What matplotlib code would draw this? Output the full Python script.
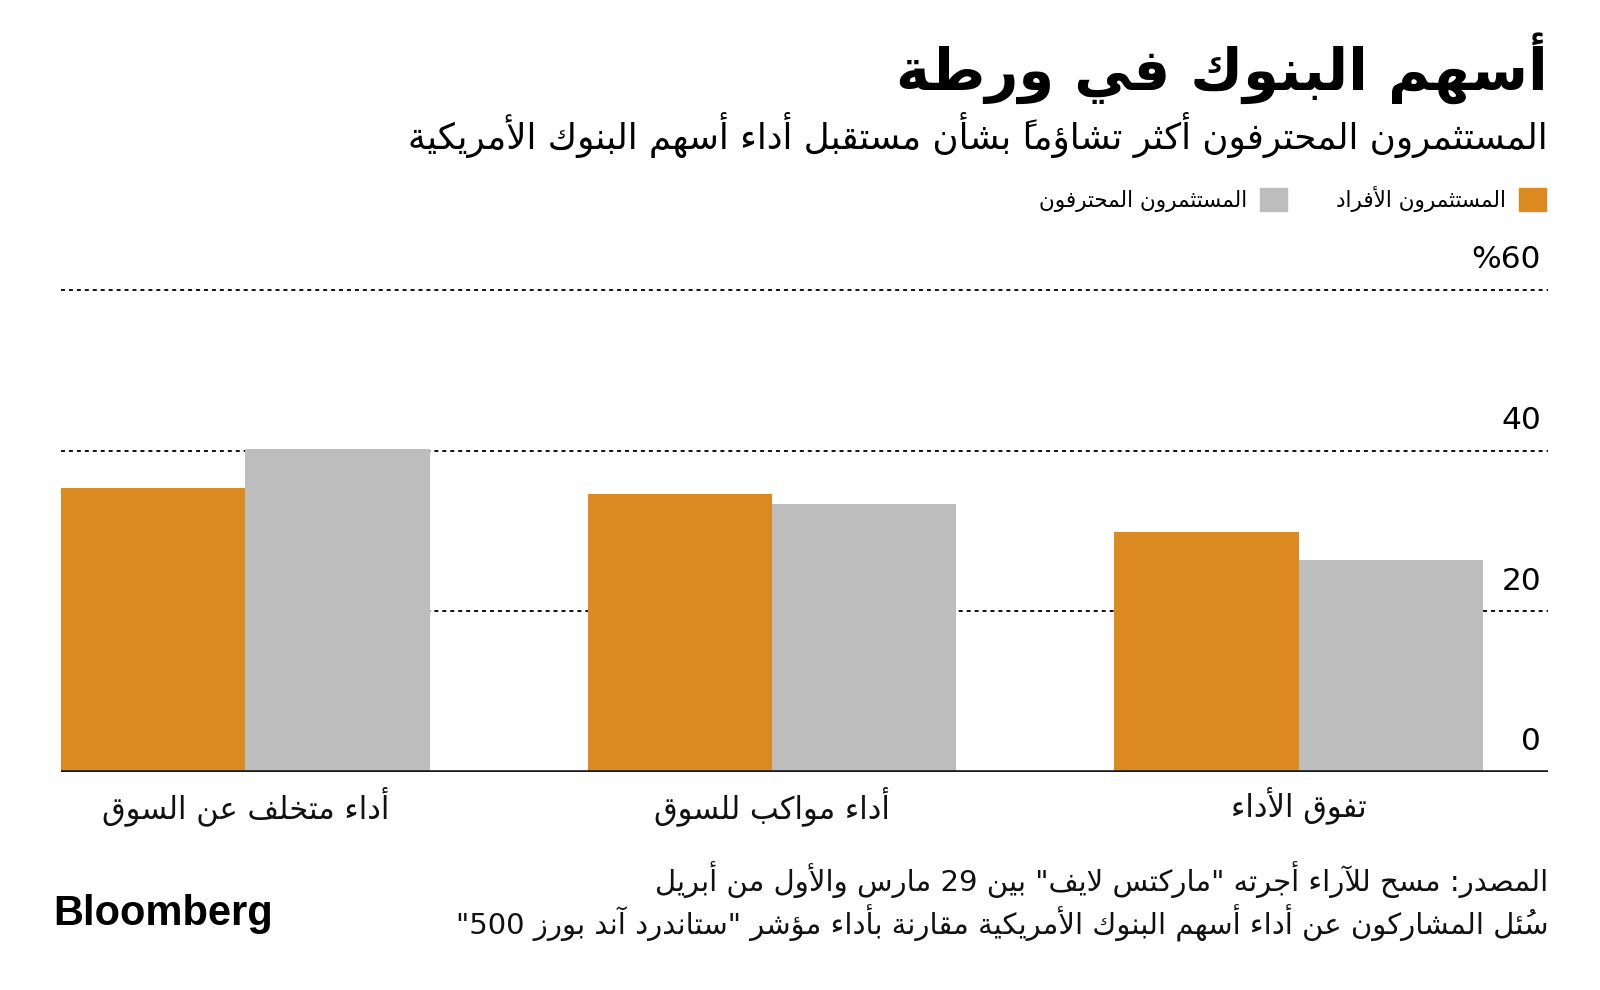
import matplotlib
matplotlib.use("Agg")
import matplotlib.pyplot as plt
from matplotlib.patches import Patch

# Data (left to right as drawn)
categories = ["أداء متخلف عن السوق", "أداء مواكب للسوق", "تفوق الأداء"]
retail = [35.3, 34.6, 29.9]        # المستثمرون الأفراد
professional = [40.2, 33.3, 26.4]  # المستثمرون المحترفون
series_names = ["المستثمرون الأفراد", "المستثمرون المحترفون"]
y_ticks = [0, 20, 40, 60]
y_labels = ["0", "20", "40", "%60"]

title = "أسهم البنوك في ورطة"
subtitle = "المستثمرون المحترفون أكثر تشاؤماً بشأن مستقبل أداء أسهم البنوك الأمريكية"
source1 = 'المصدر: مسح للآراء أجرته "ماركتس لايف" بين 29 مارس والأول من أبريل'
source2 = 'سُئل المشاركون عن أداء أسهم البنوك الأمريكية مقارنة بأداء مؤشر "ستاندرد آند بورز 500"'

ORANGE = "#DB8A22"
GREY = "#BDBDBD"

# --- minimal Arabic shaping (matplotlib has no text shaping) ---
_FORMS = {
    'ء': (0xFE80, 1), 'آ': (0xFE81, 2), 'أ': (0xFE83, 2), 'ؤ': (0xFE85, 2),
    'إ': (0xFE87, 2), 'ئ': (0xFE89, 4), 'ا': (0xFE8D, 2), 'ب': (0xFE8F, 4),
    'ة': (0xFE93, 2), 'ت': (0xFE95, 4), 'ث': (0xFE99, 4), 'ج': (0xFE9D, 4),
    'ح': (0xFEA1, 4), 'خ': (0xFEA5, 4), 'د': (0xFEA9, 2), 'ذ': (0xFEAB, 2),
    'ر': (0xFEAD, 2), 'ز': (0xFEAF, 2), 'س': (0xFEB1, 4), 'ش': (0xFEB5, 4),
    'ص': (0xFEB9, 4), 'ض': (0xFEBD, 4), 'ط': (0xFEC1, 4), 'ظ': (0xFEC5, 4),
    'ع': (0xFEC9, 4), 'غ': (0xFECD, 4), 'ف': (0xFED1, 4), 'ق': (0xFED5, 4),
    'ك': (0xFED9, 4), 'ل': (0xFEDD, 4), 'م': (0xFEE1, 4), 'ن': (0xFEE5, 4),
    'ه': (0xFEE9, 4), 'و': (0xFEED, 2), 'ى': (0xFEEF, 2), 'ي': (0xFEF1, 4),
}
_LAM_ALEF = {'آ': 0xFEF5, 'أ': 0xFEF7, 'إ': 0xFEF9, 'ا': 0xFEFB}


def _is_mark(ch):
    return 0x064B <= ord(ch) <= 0x0652


def shape(text):
    # clusters: [base, marks, nforms, glyph_base]
    cl = []
    i = 0
    while i < len(text):
        ch = text[i]
        if _is_mark(ch) and cl:
            cl[-1][1] += ch
            i += 1
            continue
        if ch == 'ل':
            j = i + 1
            marks = ''
            while j < len(text) and _is_mark(text[j]):
                marks += text[j]
                j += 1
            if j < len(text) and text[j] in _LAM_ALEF:
                cl.append([ch, marks, 2, _LAM_ALEF[text[j]]])
                i = j + 1
                continue
        if ch in _FORMS:
            cl.append([ch, '', _FORMS[ch][1], _FORMS[ch][0]])
        else:
            cl.append([ch, '', 0, None])
        i += 1

    out = []
    for k, (ch, marks, n, base) in enumerate(cl):
        if n == 0:
            out.append(ch + marks)
            continue
        jp = k > 0 and cl[k - 1][2] == 4 and n >= 2
        jn = n == 4 and k + 1 < len(cl) and cl[k + 1][2] >= 2
        if n == 1:
            idx = 0
        elif n == 2:
            idx = 1 if jp else 0
        else:
            idx = 3 if (jp and jn) else 1 if jp else 2 if jn else 0
        # zero-width mark first so it lands on its letter
        out.append(marks + chr(base + idx))

    # visual order: reverse, but keep digit runs left to right
    out = out[::-1]
    res = []
    run = []
    for g in out:
        if g.isdigit():
            run.append(g)
        else:
            if run:
                res.extend(run[::-1])
                run = []
            res.append(g)
    res.extend(run[::-1])
    return ''.join(res)


plt.rcParams['font.family'] = ['DejaVu Sans']

fig = plt.figure(figsize=(16, 9.9), dpi=100)
ax = fig.add_axes([61 / 1600, 1 - 772 / 990, (1548 - 61) / 1600, (772 - 290) / 990])

x = list(range(len(categories)))
w = 0.35
ax.bar([v - w / 2 for v in x], retail, width=w, color=ORANGE, zorder=2)
ax.bar([v + w / 2 for v in x], professional, width=w, color=GREY, zorder=2)

ax.set_xlim(-0.35, 2.473)
ax.set_ylim(0, 60)
for s in ax.spines.values():
    s.set_visible(False)
ax.set_xticks([])
ax.set_yticks([])

for v, lab in zip(y_ticks, y_labels):
    if v == 0:
        ax.axhline(0, color="#1a1a1a", lw=2.6, zorder=3)
    else:
        ax.axhline(v, color="black", lw=1.3, ls=(0, (2.2, 2.2)), zorder=1, clip_on=False)
    ax.annotate(lab, xy=(1, v), xycoords=('axes fraction', 'data'),
                xytext=(-5, 15.5), textcoords='offset points',
                ha='right', va='baseline', fontsize=22.5, color="black")

for xi, cat in zip(x, categories):
    ax.annotate(shape(cat), xy=(xi, 0), xycoords='data',
                xytext=(0, -10), textcoords='offset points',
                ha='center', va='top', fontsize=22, color="#111111")

# titles
fig.text(1548 / 1600, 1 - 68 / 990, shape(title), ha='right', va='center',
         fontsize=41.5, fontweight='bold', color='black')
fig.text(1548 / 1600, 1 - 135 / 990, shape(subtitle), ha='right', va='center',
         fontsize=25.7, color='black')

# legend (RTL: marker on the right)
handles = [Patch(color=GREY), Patch(color=ORANGE)]
labels = [shape(series_names[1]), shape(series_names[0])]
fig.legend(handles, labels, loc='center right', bbox_to_anchor=(1546 / 1600, 1 - 199 / 990),
           ncol=2, markerfirst=False, frameon=False, fontsize=15.5,
           handlelength=1.25, handleheight=1.25, handletextpad=0.6, columnspacing=2.3,
           borderaxespad=0, borderpad=0)

# footnotes
fig.text(1548 / 1600, 1 - 880 / 990, shape(source1), ha='right', va='center',
         fontsize=21, color='#111111')
fig.text(1548 / 1600, 1 - 923 / 990, shape(source2), ha='right', va='center',
         fontsize=21, color='#111111')

fig.text(53 / 1600, 1 - 914 / 990, "Bloomberg", ha='left', va='center',
         fontsize=30, fontweight='bold', family='Liberation Sans', color='black')

fig.savefig("out.png", dpi=100, facecolor='white')
